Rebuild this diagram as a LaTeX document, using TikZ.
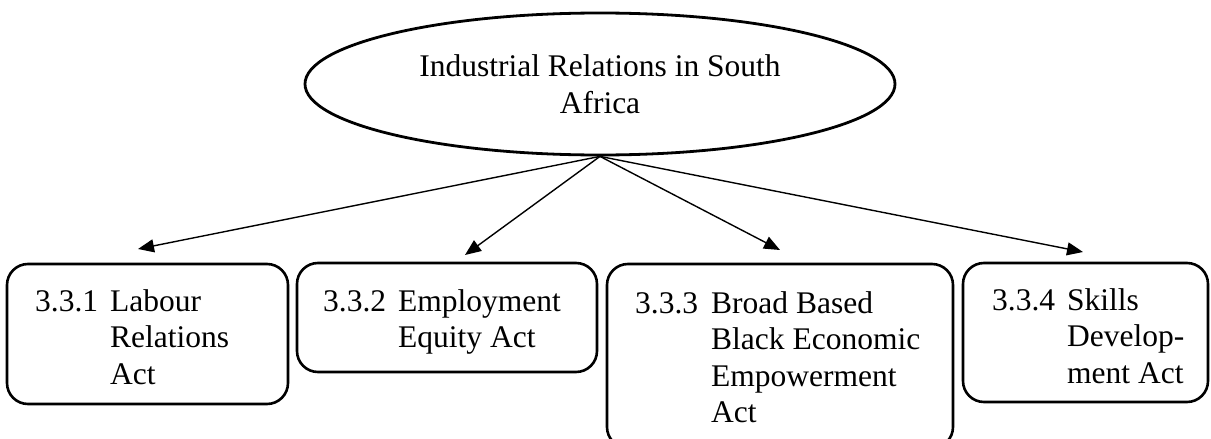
\documentclass[tikz,border=0pt]{standalone}
\usepackage{fontspec}
\setmainfont{Liberation Serif}
\usetikzlibrary{arrows.meta,shapes.geometric}
\begin{document}
\begin{tikzpicture}[x=1pt,y=-1pt,
  every node/.style={font=\fontsize{31.5}{36.5}\selectfont},
  topic/.style={ellipse, draw, line width=2.8pt, minimum width=590pt,
    minimum height=142pt, inner sep=0pt, align=center},
  actbox/.style={draw, rounded corners=21pt, line width=2.6pt, inner sep=0pt},
  actlabel/.style={anchor=base west, inner sep=0pt},
  link/.style={line width=1.4pt, -{Triangle[length=16pt,width=13pt]}}]
\useasboundingbox (0,0) rectangle (1211,439);
\clip (0,0) rectangle (1211,439);
\fill[white] (0,0) rectangle (1211,439);

% central topic
\node[topic] (topic) at (600,84) {Industrial Relations in South\\Africa};

% the four acts (the third one runs past the lower edge)
\node[actbox, minimum width=281pt, minimum height=140pt] (b1) at (147.5,334) {};
\node[actbox, minimum width=300pt, minimum height=109pt] (b2) at (447,317.5) {};
\node[actbox, minimum width=346pt, minimum height=184pt] (b3) at (780,356) {};
\node[actbox, minimum width=245pt, minimum height=139pt] (b4) at (1085.5,332.5) {};

\node[actlabel] (l1) at (35,311)
  {\begin{tabular}[t]{@{}p{75pt}@{}l@{}}3.3.1 & Labour\\ & Relations\\ & Act\end{tabular}};
\node[actlabel] (l2) at (323,311)
  {\begin{tabular}[t]{@{}p{75pt}@{}l@{}}3.3.2 & Employment\\ & Equity Act\end{tabular}};
\node[actlabel] (l3) at (635,313)
  {\begin{tabular}[t]{@{}p{76pt}@{}l@{}}3.3.3 & Broad Based\\ & Black Economic\\ & Empowerment\\ & Act\end{tabular}};
\node[actlabel] (l4) at (992,310)
  {\begin{tabular}[t]{@{}p{75pt}@{}l@{}}3.3.4 & Skills\\ & Develop-\\ & ment Act\end{tabular}};

% arrow tips just above the boxes
\coordinate (a1) at (138,249);
\coordinate (a2) at (465,255);
\coordinate (a3) at (780,250);
\coordinate (a4) at (1083,252);

\draw[link] (topic.south) -- (a1);
\draw[link] (topic.south) -- (a2);
\draw[link] (topic.south) -- (a3);
\draw[link] (topic.south) -- (a4);
\end{tikzpicture}
\end{document}
